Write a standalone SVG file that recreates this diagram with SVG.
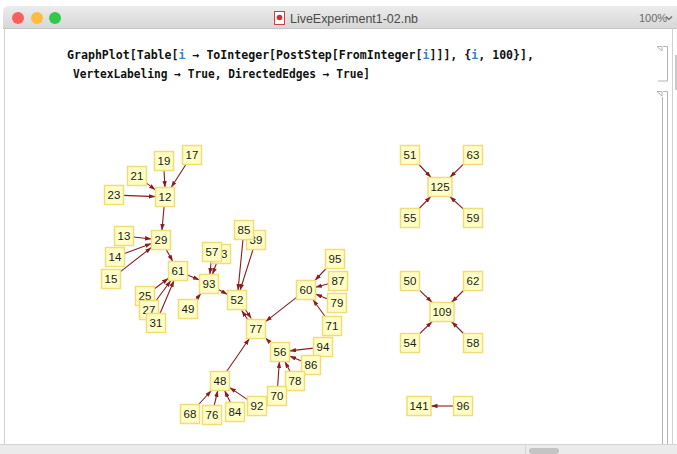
<svg xmlns="http://www.w3.org/2000/svg" width="677" height="454" viewBox="0 0 677 454">
<defs>
<linearGradient id="tb" x1="0" y1="0" x2="0" y2="1">
<stop offset="0" stop-color="#ececec"/>
<stop offset="1" stop-color="#d7d7d7"/>
</linearGradient>
<marker id="ah" markerUnits="userSpaceOnUse" markerWidth="7" markerHeight="5" refX="6.5" refY="2.2" orient="auto">
<path d="M0,0 L6.5,2.2 L0,4.4 z" fill="#8b1c1c"/>
</marker>
</defs>
<style>
.ed line{stroke:#8b1c1c;stroke-width:1.1;marker-end:url(#ah)}
.nd rect{fill:#ffffc6;stroke:#f1dc7a;stroke-width:1.5}
.nd text{font-family:"Liberation Sans",Arial,sans-serif;font-size:11.5px;fill:#1a1a1a;text-anchor:middle}
.code{font-family:"DejaVu Sans Mono","Liberation Mono",monospace;font-size:11.5px;font-weight:bold;fill:#111}
.iv{fill:#3b82c4}
.br{stroke:#b4b4b4;stroke-width:1;fill:none}
</style>
<rect x="0" y="0" width="677" height="454" fill="#ffffff"/>
<!-- window chrome -->
<path d="M3,28 L3,11 Q3,6 8,6 L677,6 L677,28 Z" fill="url(#tb)"/>
<line x1="3" y1="28.5" x2="677" y2="28.5" stroke="#c4c4c4"/>
<line x1="4.5" y1="28" x2="4.5" y2="445" stroke="#d0d0d0"/>
<circle cx="18" cy="18" r="6" fill="#fc605c"/>
<circle cx="37" cy="18" r="6" fill="#fdbc40"/>
<circle cx="55" cy="18" r="6" fill="#34c84a"/>
<rect x="274.5" y="11.5" width="10" height="13" fill="#ffffff" stroke="#d04040"/>
<circle cx="279.5" cy="17.5" r="2.8" fill="#d03030"/>
<text x="290" y="22.5" font-family="'Liberation Sans',Arial,sans-serif" font-size="13.5" fill="#4a4a4a" textLength="128" lengthAdjust="spacingAndGlyphs">LiveExperiment1-02.nb</text>
<text x="639" y="21.5" font-family="'Liberation Sans',Arial,sans-serif" font-size="11" fill="#6a6a6a">100%</text>
<path d="M666,16.5 L669,19.5 L672,16.5" stroke="#6a6a6a" stroke-width="1.2" fill="none"/>
<!-- right side brackets -->
<line x1="672.5" y1="28" x2="672.5" y2="445" stroke="#d0d0d0"/>
<rect x="675" y="55" width="2" height="35" fill="#c8c8c8"/>
<path class="br" d="M657,46.5 L662,46.5 L662,51 Z"/>
<path class="br" d="M663,46.5 L667.5,46.5 L667.5,81 L658,81"/>
<path class="br" d="M657,91.5 L662,91.5 L662,96 Z"/>
<path class="br" d="M662.5,97 L662.5,445"/>
<path class="br" d="M663,91.5 L667.5,91.5 L667.5,445"/>
<!-- bottom bar -->
<rect x="0" y="444.5" width="677" height="9.5" fill="#ebebeb"/>
<line x1="0" y1="444.5" x2="677" y2="444.5" stroke="#d4d4d4"/>
<line x1="525.5" y1="445" x2="525.5" y2="454" stroke="#d4d4d4"/>
<rect x="529" y="448" width="30" height="6" rx="3" fill="#c4c4c4"/>
<!-- code -->
<text class="code" x="67" y="59" textLength="467" lengthAdjust="spacingAndGlyphs">GraphPlot[Table[<tspan class="iv">i</tspan> → ToInteger[PostStep[FromInteger[<tspan class="iv">i</tspan>]]], {<tspan class="iv">i</tspan>, 100}],</text>
<text class="code" x="73" y="78" textLength="297" lengthAdjust="spacingAndGlyphs">VertexLabeling → True, DirectedEdges → True]</text>
<!-- connectors -->
<g id="edges" class="ed">
<line x1="185.9" y1="164.5" x2="171.1" y2="187.5"/>
<line x1="164" y1="170.5" x2="165" y2="187.5"/>
<line x1="146.5" y1="183.1" x2="155.5" y2="189.9"/>
<line x1="123.5" y1="195.4" x2="155.5" y2="196.6"/>
<line x1="164.1" y1="206.5" x2="161.9" y2="230.5"/>
<line x1="133.5" y1="237" x2="151.5" y2="239"/>
<line x1="124.5" y1="253.5" x2="151.5" y2="243.5"/>
<line x1="120.5" y1="271.6" x2="151.5" y2="247.4"/>
<line x1="166.2" y1="249.5" x2="172.8" y2="261.5"/>
<line x1="154.5" y1="288.8" x2="168.5" y2="278.2"/>
<line x1="156.1" y1="300.5" x2="170.9" y2="280.5"/>
<line x1="160" y1="313.5" x2="174" y2="280.5"/>
<line x1="187.5" y1="275" x2="199.5" y2="280"/>
<line x1="211.1" y1="261.5" x2="209.9" y2="274.5"/>
<line x1="216.4" y1="263.5" x2="212.4" y2="274.5"/>
<line x1="196" y1="299.5" x2="201" y2="293.5"/>
<line x1="218.5" y1="289.4" x2="227.5" y2="294.6"/>
<line x1="243" y1="239.5" x2="238" y2="290.5"/>
<line x1="253" y1="249.5" x2="240" y2="290.5"/>
<line x1="244.7" y1="308.5" x2="251.3" y2="318.5"/>
<line x1="248.3" y1="320.5" x2="241.7" y2="310.5"/>
<line x1="296.5" y1="297.4" x2="265.5" y2="321.6"/>
<line x1="226.6" y1="371.5" x2="249.4" y2="338.5"/>
<line x1="270.5" y1="342.9" x2="265.5" y2="338.1"/>
<line x1="326.1" y1="268.5" x2="314.9" y2="280.5"/>
<line x1="328.5" y1="283.7" x2="315.5" y2="287.3"/>
<line x1="327.5" y1="299" x2="315.5" y2="294"/>
<line x1="325.1" y1="316.5" x2="312.9" y2="299.5"/>
<line x1="313.5" y1="348.1" x2="289.5" y2="350.9"/>
<line x1="301.5" y1="361" x2="289.5" y2="356"/>
<line x1="290.1" y1="371.5" x2="284.9" y2="361.5"/>
<line x1="277.6" y1="386.5" x2="279.4" y2="361.5"/>
<line x1="198.6" y1="404.5" x2="211.4" y2="390.5"/>
<line x1="214.2" y1="405.5" x2="217.8" y2="390.5"/>
<line x1="230.4" y1="402.5" x2="224.6" y2="390.5"/>
<line x1="247.5" y1="399.6" x2="229.5" y2="387.4"/>
<line x1="418.9" y1="164.5" x2="431.1" y2="177.5"/>
<line x1="463.5" y1="164.2" x2="449.8" y2="177.5"/>
<line x1="419.2" y1="208.5" x2="430.8" y2="196.5"/>
<line x1="463.5" y1="209.1" x2="449.8" y2="196.5"/>
<line x1="419.5" y1="290.2" x2="432.2" y2="302.5"/>
<line x1="463.5" y1="290.5" x2="451.5" y2="302.5"/>
<line x1="419.5" y1="333.8" x2="432.2" y2="321.5"/>
<line x1="463.5" y1="333.5" x2="451.5" y2="321.5"/>
<line x1="453.5" y1="406" x2="431" y2="406"/>
</g>
<!-- nodes -->
<g class="nd">
<g id="n17"><rect x="182.5" y="145.5" width="19" height="19"/><text x="192" y="159">17</text></g>
<g id="n19"><rect x="154.5" y="151.5" width="19" height="19"/><text x="164" y="165">19</text></g>
<g id="n21"><rect x="127.5" y="166.5" width="19" height="19"/><text x="137" y="180">21</text></g>
<g id="n23"><rect x="104.5" y="185.5" width="19" height="19"/><text x="114" y="199">23</text></g>
<g id="n12"><rect x="155.5" y="187.5" width="19" height="19"/><text x="165" y="201">12</text></g>
<g id="n13"><rect x="114.5" y="226.5" width="19" height="19"/><text x="124" y="240">13</text></g>
<g id="n14"><rect x="105.5" y="247.5" width="19" height="19"/><text x="115" y="261">14</text></g>
<g id="n15"><rect x="101.5" y="269.5" width="19" height="19"/><text x="111" y="283">15</text></g>
<g id="n29"><rect x="151.5" y="230.5" width="19" height="19"/><text x="161" y="244">29</text></g>
<g id="n61"><rect x="168.5" y="261.5" width="19" height="19"/><text x="178" y="275">61</text></g>
<g id="n25"><rect x="135.5" y="286.5" width="19" height="19"/><text x="145" y="300">25</text></g>
<g id="n27"><rect x="139.5" y="300.5" width="19" height="19"/><text x="149" y="314">27</text></g>
<g id="n31"><rect x="146.5" y="313.5" width="19" height="19"/><text x="156" y="327">31</text></g>
<g id="n53"><rect x="211.5" y="244.5" width="19" height="19"/><text x="221" y="258">53</text></g>
<g id="n57"><rect x="202.5" y="242.5" width="19" height="19"/><text x="212" y="256">57</text></g>
<g id="n93"><rect x="199.5" y="274.5" width="19" height="19"/><text x="209" y="288">93</text></g>
<g id="n49"><rect x="178.5" y="299.5" width="19" height="19"/><text x="188" y="313">49</text></g>
<g id="n39"><rect x="246.5" y="230.5" width="19" height="19"/><text x="256" y="244">39</text></g>
<g id="n85"><rect x="234.5" y="220.5" width="19" height="19"/><text x="244" y="234">85</text></g>
<g id="n52"><rect x="227.5" y="290.5" width="19" height="19"/><text x="237" y="304">52</text></g>
<g id="n77"><rect x="246.5" y="319.5" width="19" height="19"/><text x="256" y="333">77</text></g>
<g id="n60"><rect x="296.5" y="280.5" width="19" height="19"/><text x="306" y="294">60</text></g>
<g id="n95"><rect x="325.5" y="249.5" width="19" height="19"/><text x="335" y="263">95</text></g>
<g id="n87"><rect x="328.5" y="271.5" width="19" height="19"/><text x="338" y="285">87</text></g>
<g id="n79"><rect x="327.5" y="293.5" width="19" height="19"/><text x="337" y="307">79</text></g>
<g id="n71"><rect x="322.5" y="316.5" width="19" height="19"/><text x="332" y="330">71</text></g>
<g id="n94"><rect x="313.5" y="337.5" width="19" height="19"/><text x="323" y="351">94</text></g>
<g id="n56"><rect x="270.5" y="342.5" width="19" height="19"/><text x="280" y="356">56</text></g>
<g id="n86"><rect x="301.5" y="355.5" width="19" height="19"/><text x="311" y="369">86</text></g>
<g id="n78"><rect x="285.5" y="371.5" width="19" height="19"/><text x="295" y="385">78</text></g>
<g id="n70"><rect x="267.5" y="386.5" width="19" height="19"/><text x="277" y="400">70</text></g>
<g id="n48"><rect x="210.5" y="371.5" width="19" height="19"/><text x="220" y="385">48</text></g>
<g id="n68"><rect x="180.5" y="404.5" width="19" height="19"/><text x="190" y="418">68</text></g>
<g id="n76"><rect x="202.5" y="405.5" width="19" height="19"/><text x="212" y="419">76</text></g>
<g id="n84"><rect x="225.5" y="402.5" width="19" height="19"/><text x="235" y="416">84</text></g>
<g id="n92"><rect x="247.5" y="396.5" width="19" height="19"/><text x="257" y="410">92</text></g>
<g id="n51"><rect x="400.5" y="145.5" width="19" height="19"/><text x="410" y="159">51</text></g>
<g id="n63"><rect x="463.5" y="145.5" width="19" height="19"/><text x="473" y="159">63</text></g>
<g id="n125"><rect x="428" y="177.5" width="24" height="19"/><text x="440" y="191">125</text></g>
<g id="n55"><rect x="400.5" y="208.5" width="19" height="19"/><text x="410" y="222">55</text></g>
<g id="n59"><rect x="463.5" y="208.5" width="19" height="19"/><text x="473" y="222">59</text></g>
<g id="n50"><rect x="400.5" y="271.5" width="19" height="19"/><text x="410" y="285">50</text></g>
<g id="n62"><rect x="463.5" y="271.5" width="19" height="19"/><text x="473" y="285">62</text></g>
<g id="n109"><rect x="430" y="302.5" width="24" height="19"/><text x="442" y="316">109</text></g>
<g id="n54"><rect x="400.5" y="333.5" width="19" height="19"/><text x="410" y="347">54</text></g>
<g id="n58"><rect x="463.5" y="333.5" width="19" height="19"/><text x="473" y="347">58</text></g>
<g id="n141"><rect x="407" y="396.5" width="24" height="19"/><text x="419" y="410">141</text></g>
<g id="n96"><rect x="453.5" y="396.5" width="19" height="19"/><text x="463" y="410">96</text></g>
</g>
</svg>
